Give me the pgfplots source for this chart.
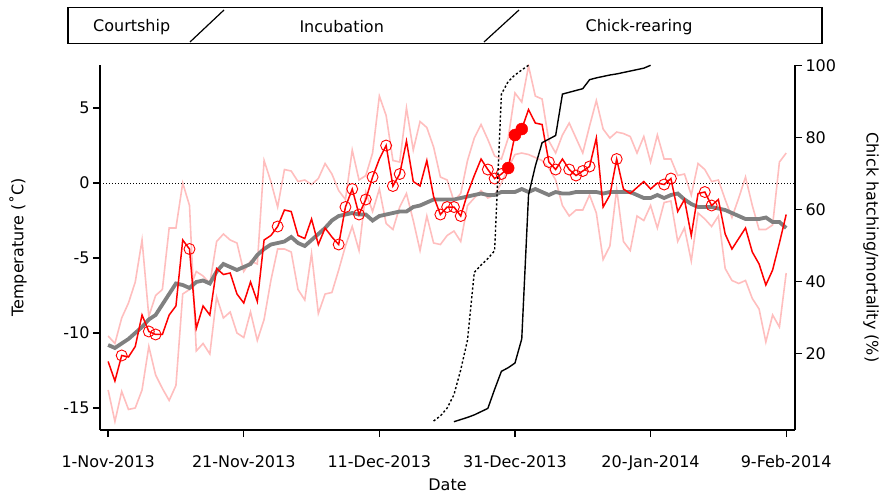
\documentclass[border=0pt]{standalone}
\usepackage{pgfplots}
\pgfplotsset{compat=1.18}
\usepackage{pgfplotstable}
\usepackage{fontspec}
\setmainfont{DejaVu Sans}
\definecolor{pinkl}{RGB}{255,190,190}
\definecolor{gline}{RGB}{128,128,128}
\definecolor{rline}{RGB}{255,0,0}

\pgfplotstableread{
d R C P1 P2 G
0 -11.9 0 -10.2 -13.8 -10.8
1 -13.2 0 -10.7 -15.9 -11.0
2 -11.5 1 -9.0 -13.9 -10.7
3 -11.6 0 -8.0 -15.1 -10.4
4 -10.9 0 -6.6 -15.0 -10.0
5 -8.8 0 -3.8 -13.8 -9.6
6 -9.9 1 -8.9 -10.9 -9.1
7 -10.1 1 -7.5 -12.8 -8.8
8 -10.1 0 -7.1 -13.7 -8.1
9 -8.8 0 -3.0 -14.5 -7.4
10 -8.2 0 -3.0 -13.5 -6.7
11 -3.8 0 0.0 -7.4 -6.8
12 -4.4 1 -1.5 -7.1 -7.0
13 -9.7 0 -11.2 -5.9 -6.6
14 -8.2 0 -10.7 -6.2 -6.5
15 -8.8 0 -11.4 -6.7 -6.7
16 -5.7 0 -7.6 -3.9 -5.9
17 -6.1 0 -9.0 -3.4 -5.4
18 -6.0 0 -8.6 -3.8 -5.6
19 -7.4 0 -10.0 -4.0 -5.8
20 -8.0 0 -10.3 -5.9 -5.6
21 -6.6 0 -8.6 -5.2 -5.4
22 -7.9 0 -10.5 -5.4 -4.8
23 -3.8 0 -9.1 1.5 -4.4
24 -3.5 0 -6.5 0.1 -4.1
25 -2.9 1 -4.4 -1.6 -4.0
26 -1.8 0 -4.4 0.9 -3.9
27 -1.9 0 -4.6 0.8 -3.6
28 -3.5 0 -7.1 0.1 -4.0
29 -3.7 0 -7.8 0.2 -4.2
30 -2.4 0 -4.7 -0.1 -3.8
31 -4.1 0 -8.7 0.3 -3.4
32 -3.0 0 -7.4 1.3 -3.0
33 -3.6 0 -7.3 0.6 -2.5
34 -4.1 1 -5.8 -0.5 -2.2
35 -1.6 1 -4.2 -1.1 -2.1
36 -0.4 1 -2.9 2.2 -2.0
37 -2.1 1 -4.5 0.2 -2.1
38 -1.1 1 -0.6 0.5 -2.1
39 0.4 1 -1.9 2.0 -2.5
40 1.6 0 -0.4 5.8 -2.2
41 2.5 1 -2.7 4.5 -2.1
42 -0.2 1 -3.1 1.5 -2.0
43 0.6 1 -1.6 1.4 -1.9
44 2.8 0 -0.7 5.0 -1.9
45 0.1 0 -2.5 2.2 -1.6
46 -0.2 0 -4.5 4.1 -1.5
47 1.5 0 -2.2 3.7 -1.3
48 -0.9 0 -4.0 2.4 -1.1
49 -2.1 1 -4.1 0.4 -1.1
50 -1.6 1 -3.5 0.2 -1.1
51 -1.6 1 -3.2 -1.2 -1.1
52 -2.2 1 -3.9 -0.7 -1.0
53 -0.7 0 -1.5 1.5 -0.9
54 0.5 0 -1.0 3.0 -0.8
55 1.6 0 -0.5 3.9 -0.7
56 0.9 1 -1.0 2.9 -0.8
57 0.3 1 -0.8 1.8 -0.8
58 0.6 1 0.0 1.6 -0.6
59 1.0 2 1.0 3.0 -0.6
60 3.2 2 1.9 6.0 -0.6
61 3.6 2 2.0 5.4 -0.4
62 4.9 0 1.9 7.8 -0.6
63 4.0 0 1.7 5.8 -0.4
64 3.9 0 1.5 5.6 -0.6
65 1.4 1 1.0 2.8 -0.8
66 0.9 1 0.2 2.0 -0.6
67 1.6 0 -1.5 3.2 -0.7
68 0.9 1 -2.2 4.0 -0.7
69 0.5 1 -1.8 3.0 -0.6
70 0.8 1 -1.8 2.0 -0.6
71 1.1 1 -0.8 3.8 -0.6
72 3.0 0 -2.0 5.5 -0.6
73 -1.6 0 -5.1 3.6 -0.7
74 -0.8 0 -4.2 3.0 -0.6
75 1.6 1 -0.4 3.4 -0.6
76 -0.4 0 -3.9 3.3 -0.6
77 -0.7 0 -4.5 3.1 -0.6
78 -0.3 0 -2.2 2.0 -0.8
79 0.1 0 -2.5 3.1 -1.0
80 -0.4 0 -1.5 1.4 -1.0
81 0.0 0 -3.0 3.2 -0.8
82 -0.1 1 -1.3 1.6 -1.0
83 0.3 1 -1.2 1.6 -0.8
84 -1.9 0 -3.9 0.5 -0.7
85 -1.1 0 -3.0 0.6 -1.1
86 -3.5 0 -5.2 -0.8 -1.4
87 -0.7 0 -2.0 1.3 -1.6
88 -0.6 1 -2.4 0.9 -1.6
89 -1.5 1 -2.9 0.1 -1.6
90 -1.1 0 -2.2 0.2 -1.7
91 -3.4 0 -5.7 -1.1 -1.8
92 -4.4 0 -6.5 -2.3 -2.0
93 -3.7 0 -6.7 -1.0 -2.2
94 -3.0 0 -6.5 0.4 -2.4
95 -4.6 0 -7.7 -1.5 -2.4
96 -5.4 0 -8.4 -3.1 -2.4
97 -6.8 0 -10.6 -3.1 -2.3
98 -5.8 0 -8.8 -2.8 -2.6
99 -4.0 0 -9.6 1.4 -2.6
100 -2.1 0 -6.0 2.0 -3.0
}\temps

\pgfplotstableread{
d P
51 1.0
52 1.6
53 2.2
54 2.9
55 3.8
56 4.7
57 10.0
58 15.0
59 16.0
60 17.3
61 24.0
62 64.0
63 72.0
64 78.5
65 79.5
66 80.5
67 92.0
68 92.5
69 93.0
70 93.5
71 96.0
72 96.5
73 96.9
74 97.3
75 97.6
76 98.0
77 98.4
78 98.8
79 99.2
80 100.0
}\hatch

\pgfplotstableread{
d P
48 1.2
49 2.6
50 4.8
51 8.5
52 15.4
53 23.7
54 42.5
55 44.5
56 46.3
57 48.5
58 92.0
59 95.5
60 97.3
61 98.7
62 100.0
}\hatchb

\newcommand{\fs}{\fontsize{16}{19}\selectfont}
\begin{document}
\begin{tikzpicture}
\useasboundingbox (0pt,0pt) rectangle (883pt,496pt);
\pgfplotsset{
  base/.style={
    at={(100pt,66pt)}, anchor=south west, scale only axis,
    width=695pt, height=365pt,
    xmin=-1.2, xmax=101.3,
    axis line style={line width=1.3pt, black},
    tick style={line width=1.3pt, black},
    major tick length=7pt,
    tick align=outside,
    tick label style={font=\fs},
    label style={font=\fs},
  }
}
\begin{axis}[base,
  ymin=-16.47, ymax=7.87,
  axis y line*=left, axis x line*=bottom,
  xtick={0,20,40,60,80,100},
  xticklabels={1-Nov-2013,21-Nov-2013,11-Dec-2013,31-Dec-2013,20-Jan-2014,9-Feb-2014},
  xticklabel style={yshift=-15pt},
  ytick={-15,-10,-5,0,5},
  yticklabels={-15,-10,-5,0,5},
  xlabel={Date},
  xlabel style={at={(axis description cs:0.5,-0.1507)}, anchor=center},
  ylabel={Temperature (˚C)},
  ylabel style={at={(axis description cs:-0.118,0.5)}, anchor=center, rotate=0},
]
\addplot[pinkl, line width=1.6pt] table[x=d, y=P1] {\temps};
\addplot[pinkl, line width=1.6pt] table[x=d, y=P2] {\temps};
\addplot[gline, line width=3.8pt] table[x=d, y=G] {\temps};
\addplot[black, line width=1pt, dash pattern=on 1.2pt off 1.8pt] coordinates {(-1.2,0) (101.3,0)};
\addplot[rline, line width=1.5pt] table[x=d, y=R] {\temps};
\addplot[rline, only marks, mark=o, mark size=5.5pt, mark options={line width=0.9pt}] table[x=d, y=R, restrict expr to domain={\thisrow{C}}{1:1}] {\temps};
\addplot[rline, only marks, mark=*, mark size=6pt] table[x=d, y=R, restrict expr to domain={\thisrow{C}}{2:2}] {\temps};
\end{axis}
\begin{axis}[base,
  ymin=-1.3, ymax=100.08,
  axis y line*=right, axis x line=none,
  ytick={20,40,60,80,100},
  yticklabels={20,40,60,80,100},
  ylabel={Chick hatching/mortality (\%)},
  ylabel style={at={(axis description cs:1.1094,0.5)}, anchor=center, rotate=180},
]
\addplot[black, line width=1.4pt] table[x=d, y=P] {\hatch};
\addplot[black, line width=1.4pt, dash pattern=on 2.2pt off 2.2pt] table[x=d, y=P] {\hatchb};
\end{axis}
\draw[line width=1.2pt] (68pt,452.7pt) rectangle (822pt,488.7pt);
\draw[line width=1.2pt] (190pt,454pt) -- (224pt,486pt);
\draw[line width=1.2pt] (484pt,454pt) -- (519pt,486pt);
\node[font=\fs] at (131.7pt,469pt) {Courtship};
\node[font=\fs] at (341.7pt,469pt) {Incubation};
\node[font=\fs] at (639pt,469pt) {Chick-rearing};
\end{tikzpicture}
\end{document}
